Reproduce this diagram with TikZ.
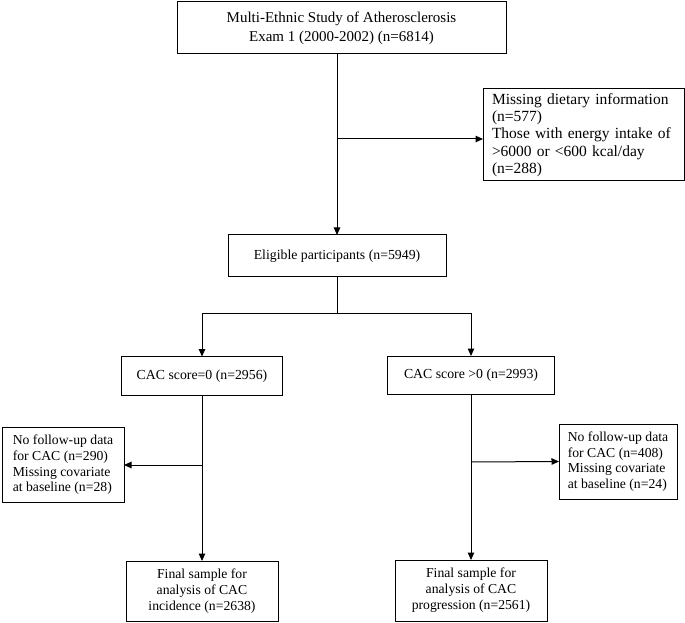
\documentclass[tikz,border=0pt]{standalone}
\usepackage{fontspec}
\setmainfont{Liberation Serif}
\usetikzlibrary{arrows.meta,calc}
\begin{document}
\begin{tikzpicture}[x=1pt,y=1pt,
  box/.style={draw,line width=1pt,inner sep=0pt,outer sep=0pt,align=center},
  conn/.style={line width=1pt},
  arr/.style={conn,-{Triangle[length=7.5pt,width=6.5pt]}}]
\useasboundingbox (0,0) rectangle (685,622);
\node[box,minimum width=329,minimum height=52,font=\fontsize{15}{19}\selectfont] (top) at (341.5,594)
  {Multi-Ethnic Study of Atherosclerosis\\Exam 1 (2000-2002) (n=6814)};
\node[box,minimum width=201,minimum height=92,align=left,font=\fontsize{15.5}{17.3}\selectfont,text width=183,inner xsep=9] (excl) at (583.5,487)
  {Missing dietary information\\(n=577)\\Those with energy intake of\\>6000 or <600 kcal/day\\(n=288)};
\node[box,minimum width=218,minimum height=42,font=\fontsize{13.8}{16}\selectfont] (elig) at (337,366)
  {Eligible participants (n=5949)};
\node[box,minimum width=161,minimum height=39,font=\fontsize{13.8}{16}\selectfont] (cac0) at (202,246)
  {CAC score=0 (n=2956)};
\node[box,minimum width=167,minimum height=38,font=\fontsize{13.8}{16}\selectfont] (cac1) at (471,247)
  {CAC score >0 (n=2993)};
\node[box,minimum width=122,minimum height=75,align=left,font=\fontsize{13.7}{15.6}\selectfont] (side0) at (63,157)
  {No follow-up data\\for CAC (n=290)\\Missing covariate\\at baseline (n=28)};
\node[box,minimum width=118,minimum height=75,align=left,font=\fontsize{13.7}{15.6}\selectfont] (side1) at (618,160.5)
  {No follow-up data\\for CAC (n=408)\\Missing covariate\\at baseline (n=24)};
\node[box,minimum width=152,minimum height=60,font=\fontsize{13.7}{16}\selectfont] (fin0) at (202,31)
  {Final sample for\\analysis of CAC\\incidence (n=2638)};
\node[box,minimum width=152,minimum height=61,font=\fontsize{13.7}{16}\selectfont] (fin1) at (471,31.5)
  {Final sample for\\analysis of CAC\\progression (n=2561)};
\coordinate (b1) at (337,483);
\coordinate (b2) at (337,309);
\coordinate (b3) at (202,157);
\coordinate (b4) at (471,160);
\draw[arr] (top.south -| elig.north) -- (elig.north);
\draw[arr] (b1) -- (b1 -| excl.west);
\draw[conn] (elig.south) -- (b2);
\draw[arr] (b2) -| (cac0.north);
\draw[arr] (b2) -| (cac1.north);
\draw[arr] (cac0.south) -- (fin0.north);
\draw[arr] (b3) -- (side0.east);
\draw[arr] (cac1.south) -- (fin1.north);
\draw[arr] (b4) -- (side1.west);
\end{tikzpicture}
\end{document}
